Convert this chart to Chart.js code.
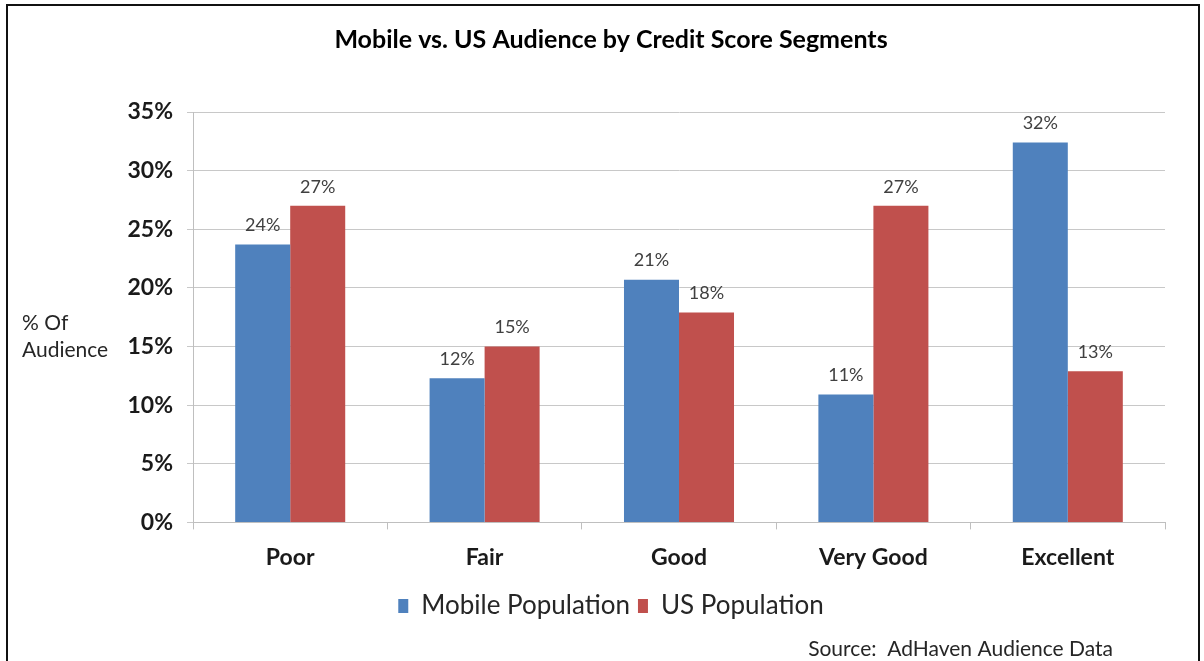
<!DOCTYPE html>
<html>
<head>
<meta charset="utf-8">
<title>Mobile vs. US Audience by Credit Score Segments</title>
<script src="https://cdn.jsdelivr.net/npm/chart.js@4.4.1/dist/chart.umd.min.js"></script>
<style>
  html, body { margin: 0; padding: 0; background: #fff; overflow: hidden; }
  #wrap { position: relative; width: 1204px; height: 661px; }
  #frame { position: absolute; left: 6px; top: 4px; width: 1190px; height: 700px; border: 2px solid #111; pointer-events: none; }
</style>
</head>
<body>
<div id="wrap">
  <canvas id="creditChart" width="1204" height="661"></canvas>
  <div id="frame"></div>
</div>
<script>
const segments = ["Poor", "Fair", "Good", "Very Good", "Excellent"];
const mobilePopulation = [23.7, 12.3, 20.7, 10.9, 32.4];
const usPopulation = [27.0, 15.0, 17.9, 27.0, 12.9];
const yTickStep = 5;
const yMax = 35;

const FONT = "Lato";
const PAD_LEFT = 57;

// percentage above every bar
const barValueLabels = {
    id: "barValueLabels",
    afterDatasetsDraw(chart) {
        const ctx = chart.ctx;
        ctx.save();
        ctx.font = "18px " + FONT;
        ctx.fillStyle = "#404040";
        ctx.textAlign = "center";
        ctx.textBaseline = "bottom";
        chart.data.datasets.forEach((ds, i) => {
            chart.getDatasetMeta(i).data.forEach((bar, j) => {
                ctx.fillText(Math.round(ds.data[j]) + "%", bar.x, bar.y - 10);
            });
        });
        ctx.restore();
    }
};

// horizontal y axis caption and the source note
const sideText = {
    id: "sideText",
    afterDraw(chart) {
        const { ctx, chartArea, width, height } = chart;
        const mid = (chartArea.top + chartArea.bottom) / 2;
        ctx.save();
        ctx.fillStyle = "#262626";
        ctx.font = "21px " + FONT;
        ctx.textAlign = "left";
        ctx.textBaseline = "middle";
        ctx.fillText("% Of", 22, mid + 6);
        ctx.fillText("Audience", 22, mid + 33);
        ctx.textAlign = "right";
        ctx.fillText("Source:  AdHaven Audience Data", width - 91, height - 12);
        ctx.restore();
    }
};

new Chart(document.getElementById("creditChart"), {
    type: "bar",
    data: {
        labels: segments,
        datasets: [
            {
                label: "Mobile Population",
                data: mobilePopulation,
                backgroundColor: "#4f81bd",
            },
            {
                label: "US Population",
                data: usPopulation,
                backgroundColor: "#c0504d",
            },
        ],
    },
    options: {
        responsive: false,
        animation: false,
        categoryPercentage: 0.566,
        barPercentage: 1,
        layout: { padding: { left: PAD_LEFT, right: 39, top: 0, bottom: 32 } },
        plugins: {
            title: {
                display: true,
                text: "Mobile vs. US Audience by Credit Score Segments",
                color: "#000",
                font: { family: FONT, size: 25, weight: "bold" },
                padding: { top: 25, bottom: 57 },
            },
            legend: {
                position: "bottom",
                labels: {
                    boxWidth: 10,
                    boxHeight: 14,
                    color: "#262626",
                    font: { family: FONT, size: 26 },
                    padding: 8,
                },
            },
            tooltip: { enabled: false },
        },
        scales: {
            x: {
                grid: { drawOnChartArea: false, tickLength: 7, color: "#bfbfbf" },
                border: { color: "#bfbfbf" },
                ticks: {
                    color: "#1a1a1a",
                    padding: 14,
                    font: { family: FONT, size: 23, weight: "bold" },
                },
            },
            y: {
                min: 0,
                max: yMax,
                afterFit: (scale) => { scale.width = 193 - PAD_LEFT; },
                grid: { color: "#c8c8c8", tickLength: 6 },
                border: { color: "#bfbfbf" },
                ticks: {
                    stepSize: yTickStep,
                    padding: 14,
                    color: "#1a1a1a",
                    font: { family: FONT, size: 23, weight: "bold" },
                    callback: (v) => v + "%",
                },
            },
        },
    },
    plugins: [barValueLabels, sideText],
});
</script>
</body>
</html>
